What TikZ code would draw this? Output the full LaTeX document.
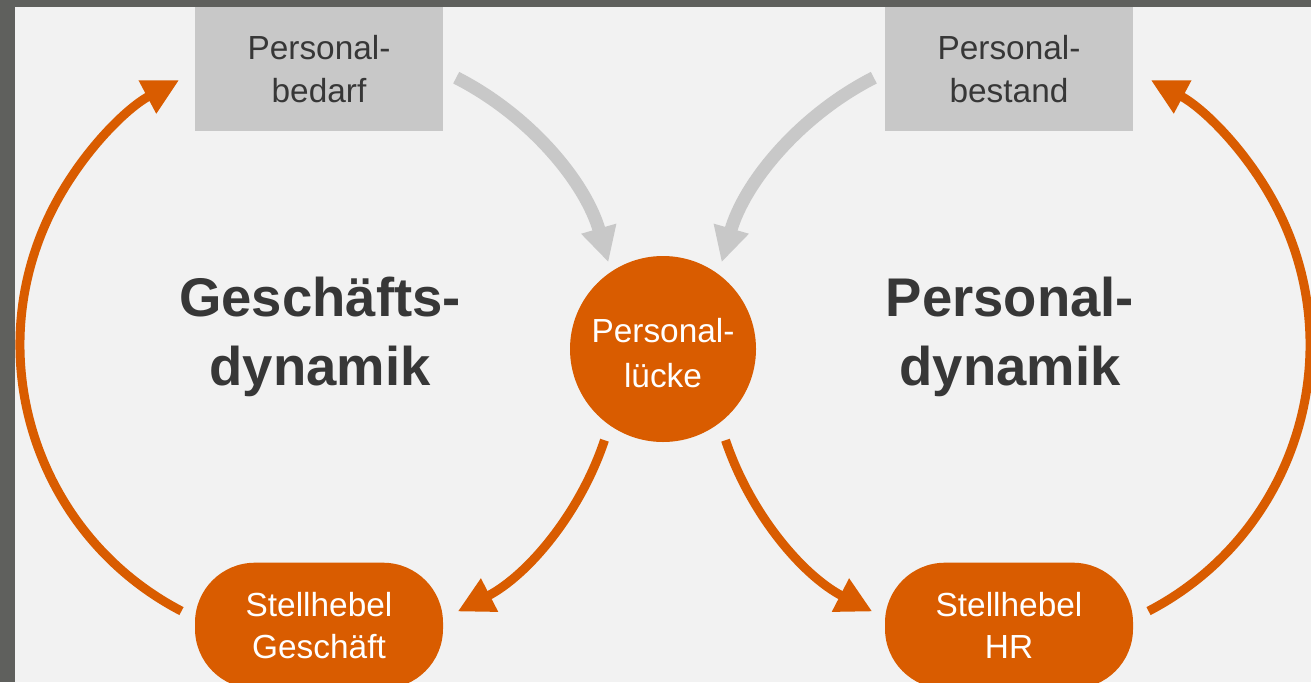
\documentclass[tikz,border=0pt]{standalone}
\usepackage{fontspec}
\setmainfont{Liberation Sans}
\usetikzlibrary{arrows.meta, positioning}

\definecolor{rahmen}{RGB}{95,96,93}
\definecolor{hintergrund}{RGB}{242,242,242}
\definecolor{orangeton}{RGB}{217,92,0}
\definecolor{grauton}{RGB}{200,200,200}
\definecolor{schrift}{RGB}{55,55,55}

\begin{document}
\begin{tikzpicture}[
    kasten/.style={
      rectangle,
      minimum width=4.96cm,
      minimum height=2.48cm,
      fill=grauton,
      text=schrift,
      align=center,
      font=\fontsize{19}{24}\selectfont
    },
    hebel/.style={
      kasten,
      rounded corners=1.2cm,
      minimum height=2.52cm,
      fill=orangeton,
      text=white
    },
    luecke/.style={
      circle,
      minimum size=3.72cm,
      fill=orangeton,
      text=white,
      align=center,
      font=\fontsize{19}{26}\selectfont
    },
    titel/.style={
      align=center,
      text=schrift,
      font=\bfseries\fontsize{31}{39}\selectfont
    },
    grauerpfeil/.style={
      -{Triangle[length=0.7cm, width=0.68cm]},
      line width=0.26cm,
      draw=grauton
    },
    pfeil/.style={
      -{Triangle[length=0.72cm, width=0.7cm]},
      line width=0.18cm,
      draw=orangeton
    }
  ]

  % Rahmen und Hintergrund
  \useasboundingbox (0,0) rectangle (26.22,13.64);
  \fill[rahmen] (0,0) rectangle (26.22,13.64);
  \fill[hintergrund] (0.3,0) rectangle (26.22,13.50);
  \clip (0.3,0) rectangle (26.22,13.50);

  % Mittelpunkte der beiden Kreislaeufe
  \coordinate (links) at (6.40,6.74);
  \coordinate (rechts) at (20.20,6.74);

  % Obere Kaesten
  \node[kasten] (bedarf) at (6.38,12.26) {Personal-\\bedarf};
  \node[kasten] (bestand) at (20.18,12.26) {Personal-\\bestand};

  % Mitte (Text etwas tiefer als der Kreismittelpunkt)
  \node[luecke] (luecke) at (13.26,6.66) {\raisebox{-0.58cm}{\smash{\begin{tabular}{@{}c@{}}Personal-\\lücke\end{tabular}}}};

  % Untere Stellhebel
  \node[hebel, below=8.62cm of bedarf] (geschaeft) {Stellhebel\\Geschäft};
  \node[hebel, below=8.62cm of bestand] (hr) {Stellhebel\\HR};

  % Titel
  \node[titel] (gdyn) at (6.40,6.90) {Geschäfts-\\dynamik};
  \node[titel] (pdyn) at (20.20,6.90) {Personal-\\dynamik};

  % Graue Pfeile zur Luecke
  \draw[grauerpfeil] ([shift={(63:6)}]links) arc[start angle=63, end angle=16, radius=6];
  \draw[grauerpfeil] ([shift={(117:6)}]rechts) arc[start angle=117, end angle=164, radius=6];

  % Orange Pfeile von der Luecke zu den Hebeln
  \draw[pfeil] ([shift={(-18.5:6)}]links) arc[start angle=-18.5, end angle=-62.7, radius=6];
  \draw[pfeil] ([shift={(198.5:6)}]rechts) arc[start angle=198.5, end angle=242.7, radius=6];

  % Grosse Boegen von den Hebeln nach oben
  \draw[pfeil] ([shift={(242.5:6)}]links) arc[start angle=242.5, end angle=118, radius=6];
  \draw[pfeil] ([shift={(-62.5:6)}]rechts) arc[start angle=-62.5, end angle=62, radius=6];

\end{tikzpicture}
\end{document}
